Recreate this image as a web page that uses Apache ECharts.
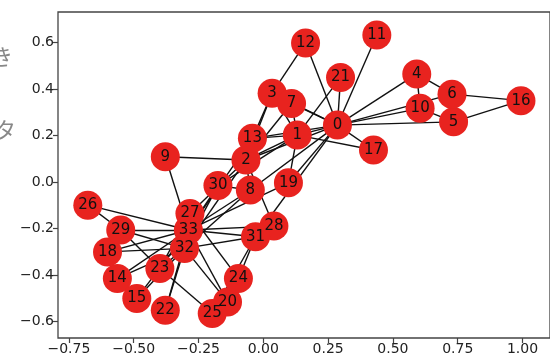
<!DOCTYPE html>
<html><head><meta charset="utf-8">
<script src="https://cdn.jsdelivr.net/npm/echarts@6/dist/echarts.min.js"></script>
<style>html,body{margin:0;padding:0;background:#fff;}#c{width:550px;height:362px;}</style>
</head><body><div id="c"></div>
<script>
// Node positions (spring layout), index = node id
const nodeX = [0.286, 0.131, -0.067, 0.034, 0.592, 0.734, 0.728, 0.109, -0.050, -0.378,
  0.605, 0.438, 0.163, -0.042, -0.563, -0.488, 0.994, 0.425, -0.601, 0.097,
  -0.138, 0.298, -0.378, -0.399, -0.096, -0.197, -0.677, -0.283, 0.041, -0.550,
  -0.175, -0.030, -0.304, -0.289];
const nodeY = [0.245, 0.202, 0.095, 0.382, 0.465, 0.259, 0.378, 0.338, -0.034, 0.109,
  0.317, 0.632, 0.598, 0.188, -0.414, -0.500, 0.350, 0.138, -0.300, -0.003,
  -0.515, 0.450, -0.551, -0.371, -0.414, -0.565, -0.099, -0.135, -0.189, -0.206,
  -0.015, -0.235, -0.285, -0.206];
// Karate club edges
const edgesFrom = [0,0,0,0,0,0,0,0,0,0,0,0,0,0,0,0,
  1,1,1,1,1,1,1,1,
  2,2,2,2,2,2,2,2,
  3,3,3,
  4,4,
  5,5,5,
  6,
  8,8,8,
  9,13,14,14,15,15,18,18,19,20,20,22,22,
  23,23,23,23,23,
  24,24,24,25,26,26,27,28,28,29,29,30,30,31,31,32];
const edgesTo = [1,2,3,4,5,6,7,8,10,11,12,13,17,19,21,31,
  2,3,7,13,17,19,21,30,
  3,7,8,9,13,27,28,32,
  7,12,13,
  6,10,
  6,10,16,
  16,
  30,32,33,
  33,33,32,33,32,33,32,33,33,32,33,32,33,
  25,27,29,32,33,
  25,27,31,31,29,33,33,31,33,32,33,32,33,32,33,33];
const xTicks = [-0.75, -0.5, -0.25, 0, 0.25, 0.5, 0.75, 1.0];
const yTicks = [-0.6, -0.4, -0.2, 0.0, 0.2, 0.4, 0.6];

const nodes = nodeX.map((x,i) => ({name: String(i), value: [x, nodeY[i]]}));
const links = edgesTo.map((t,i) => ({source: String(edgesFrom[i]), target: String(t)}));

function fmt(v, d){ return (v < 0 ? '\u2212' : '') + Math.abs(v).toFixed(d); }

const chart = echarts.init(document.getElementById('c'));
chart.setOption({
  animation: false,
  backgroundColor: '#fff',
  grid: {left: 58, top: 12, width: 501, height: 326, show: true, borderColor: '#444', borderWidth: 1.3, backgroundColor: 'transparent'},
  xAxis: {type: 'value', min: -0.792, max: 1.106,
    splitLine: {show: false}, axisLine: {show: false, onZero: false},
    axisTick: {show: true, customValues: xTicks, length: 5, lineStyle: {color: '#444', width: 1.2}},
    axisLabel: {customValues: xTicks, formatter: v => fmt(v, 2), color: '#222', fontFamily: 'DejaVu Sans', fontSize: 14, margin: 4}},
  yAxis: {type: 'value', min: -0.670, max: 0.731,
    splitLine: {show: false}, axisLine: {show: false, onZero: false},
    axisTick: {show: true, customValues: yTicks, length: 5, lineStyle: {color: '#444', width: 1.2}},
    axisLabel: {customValues: yTicks, formatter: v => fmt(v, 1), color: '#222', fontFamily: 'DejaVu Sans', fontSize: 14, margin: 4}},
  graphic: [
    {type: 'text', left: -9, top: 46, style: {text: 'き', fill: '#888', font: '22px "Noto Sans CJK JP"'}},
    {type: 'text', left: -6, top: 119, style: {text: 'タ', fill: '#888', font: '22px "Noto Sans CJK JP"'}}
  ],
  series: [{
    type: 'graph', coordinateSystem: 'cartesian2d', layout: 'none',
    symbol: 'circle', symbolSize: 29,
    itemStyle: {color: '#e8231f'},
    label: {show: true, position: 'inside', color: '#111', fontFamily: 'DejaVu Sans', fontSize: 15,
      formatter: p => p.name},
    lineStyle: {color: '#111', width: 1.4, opacity: 1, curveness: 0},
    emphasis: {disabled: true},
    data: nodes, links: links
  }]
});
</script></body></html>
